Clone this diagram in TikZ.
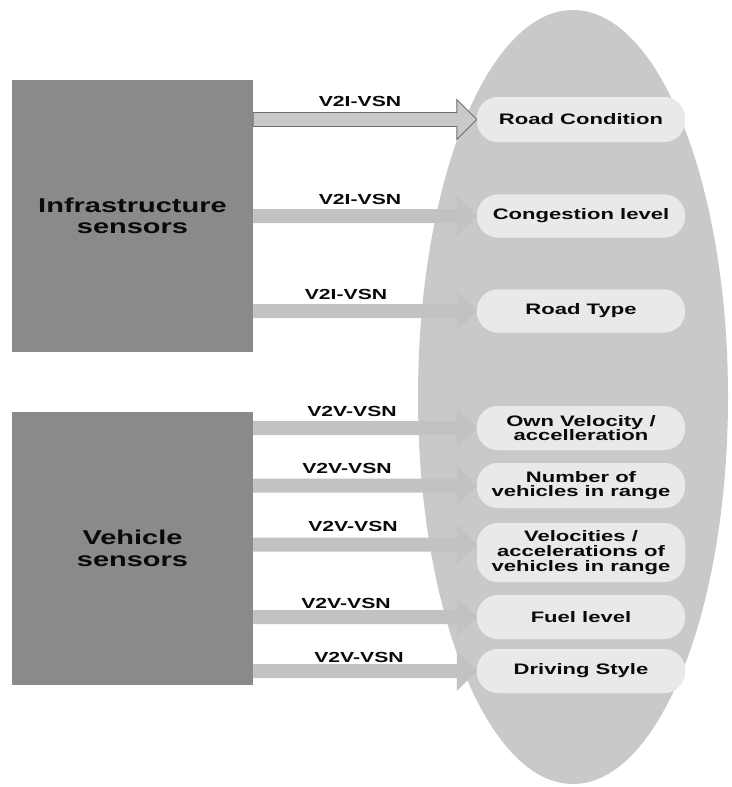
\documentclass[tikz,border=0pt]{standalone}
\usepackage{fontspec}
\newfontfamily\wf{Liberation Sans}[FakeStretch=1.45]
\usetikzlibrary{shapes.geometric,calc}
\definecolor{ellgray}{HTML}{C9C9C9}
\definecolor{boxgray}{HTML}{8A8A8A}
\definecolor{pillgray}{HTML}{E9E9E9}
\definecolor{arrgray}{HTML}{C2C2C2}
\definecolor{arredge}{HTML}{6E6E6E}
\definecolor{txt}{HTML}{0A0A0A}
\newcommand\blockarrow[3][]{%
  \path let \p1=(#2), \p2=(#3) in [#1]
    (\x1,\y2+7pt) -- (\x2-20pt,\y2+7pt) -- (\x2-20pt,\y2+20pt) -- (\x2,\y2)
    -- (\x2-20pt,\y2-20pt) -- (\x2-20pt,\y2-7pt) -- (\x1,\y2-7pt) -- cycle;}
\tikzset{
  srcbox/.style={draw=none, fill=boxgray, minimum width=241pt, minimum height=272pt,
    inner sep=0pt, align=center, text=txt, font=\wf\bfseries\fontsize{20}{21.5}\selectfont},
  pill/.style={draw=none, fill=pillgray, rounded corners=21pt, minimum width=208pt,
    inner sep=0pt, align=center, text=txt, font=\wf\bfseries\fontsize{15.2}{14.6}\selectfont},
  lab/.style={inner sep=0pt, text=txt, font=\wf\bfseries\fontsize{14.6}{16}\selectfont},
  plainarrow/.style={fill=arrgray},
  edgearrow/.style={fill=ellgray, draw=arredge, line width=0.9pt}
}
\begin{document}
\begin{tikzpicture}[x=1pt,y=-1pt]
\useasboundingbox (0,0) rectangle (731,787);
\node[ellipse, fill=ellgray, draw=none, minimum width=310pt, minimum height=774pt, inner sep=0pt] (ell) at (573,397) {};
% source boxes
\node[srcbox] (infra) at (132.5,216) {Infrastructure\\sensors};
\node[srcbox, minimum height=273pt] (veh) at (132.5,548.5) {Vehicle\\sensors};
% pills
\node[pill, minimum height=45pt] (rc) at (581,119.5) {Road Condition};
\node[pill, minimum height=43pt] (cl) at (581,216) {Congestion level};
\node[pill, minimum height=43pt] (rt) at (581,311) {Road Type};
\node[pill, minimum height=44pt] (ov) at (581,428) {Own Velocity /\\accelleration};
\node[pill, minimum height=45pt] (nv) at (581,485.5) {Number of\\vehicles in range};
\node[pill, minimum height=59pt] (va) at (581,552.5) {Velocities /\\accelerations of\\vehicles in range};
\node[pill, minimum height=44pt] (fl) at (581,617) {Fuel level};
\node[pill, minimum height=44pt] (ds) at (581,671) {Driving Style};
% arrow end points
\coordinate (erc) at (rc.west);
\coordinate (ecl) at (cl.west);
\coordinate (ert) at (rt.west);
\coordinate (eov) at (ov.west);
\coordinate (env) at (nv.west);
\coordinate (eva) at ($(va.west)+(0,-8)$);
\coordinate (efl) at (fl.west);
\coordinate (eds) at (ds.west);
% arrows
\blockarrow[plainarrow]{infra.east}{ecl}
\blockarrow[plainarrow]{infra.east}{ert}
\blockarrow[plainarrow]{veh.east}{eov}
\blockarrow[plainarrow]{veh.east}{env}
\blockarrow[plainarrow]{veh.east}{eva}
\blockarrow[plainarrow]{veh.east}{efl}
\blockarrow[plainarrow]{veh.east}{eds}
\blockarrow[edgearrow]{infra.east}{erc}
% redraw pills on top of arrow tips
\node[pill, minimum height=45pt] at (rc) {Road Condition};
\node[pill, minimum height=43pt] at (cl) {Congestion level};
\node[pill, minimum height=43pt] at (rt) {Road Type};
\node[pill, minimum height=44pt] at (ov) {Own Velocity /\\accelleration};
\node[pill, minimum height=45pt] at (nv) {Number of\\vehicles in range};
\node[pill, minimum height=59pt] at (va) {Velocities /\\accelerations of\\vehicles in range};
\node[pill, minimum height=44pt] at (fl) {Fuel level};
\node[pill, minimum height=44pt] at (ds) {Driving Style};
% labels
\node[lab] (l1) at (360,101) {V2I-VSN};
\node[lab] (l2) at (360,199) {V2I-VSN};
\node[lab] (l3) at (346,294) {V2I-VSN};
\node[lab] (l4) at (352,411) {V2V-VSN};
\node[lab] (l5) at (347,468) {V2V-VSN};
\node[lab] (l6) at (353,526) {V2V-VSN};
\node[lab] (l7) at (346,603) {V2V-VSN};
\node[lab] (l8) at (359,657) {V2V-VSN};
\end{tikzpicture}
\end{document}
